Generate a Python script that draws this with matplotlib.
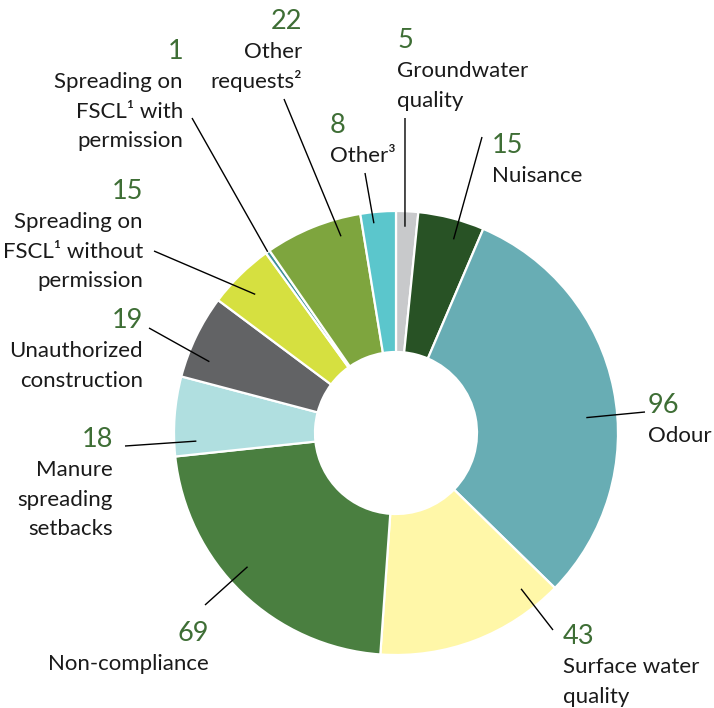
import numpy as np
import matplotlib
matplotlib.use("Agg")
import matplotlib.pyplot as plt

# ---- data (clockwise from 12 o'clock) ----
categories = ["Groundwater\nquality", "Nuisance", "Odour", "Surface water\nquality",
              "Non-compliance", "Manure\nspreading\nsetbacks", "Unauthorized\nconstruction",
              "Spreading on\nFSCL¹ without\npermission", "Spreading on\nFSCL¹ with\npermission",
              "Other\nrequests²", "Other³"]
values = [5, 15, 96, 43, 69, 18, 19, 15, 1, 22, 8]
colors = ["#c8c9cb", "#285225", "#68adb4", "#fff7a8", "#4a7f40", "#b0dfe0",
          "#626365", "#d6e040", "#3f8f98", "#7ea53e", "#5bc6cc"]

# ---- layout (pixel coords, y down) ----
# text x, number baseline, alignment, outer end of leader, position along wedge, radius fraction
layout = [
    (397, 48, "left", (405, 118), 0.43, 0.93),
    (492, 153, "left", (482, 137), 0.62, 0.91),
    (648, 413, "left", (645, 412), 0.56, 0.86),
    (563, 644, "left", (553, 630), 0.14, 0.90),
    (209, 641, "right", (205, 605), 0.55, 0.90),
    (113, 447, "right", (125, 446), 0.18, 0.90),
    (143, 328, "right", (149, 328), 0.28, 0.90),
    (143, 199, "right", (154, 251), 0.45, 0.89),
    (183, 59, "right", (192, 118), 0.50, 1.00),
    (302, 29, "right", (284, 99), 0.75, 0.92),
    (330, 133, "left", (365, 173), 0.35, 0.95),
]

cx, cy, R, r_in = 396, 433, 222, 81
line_gap = 29.3
green = "#3e6e35"
plt.rcParams['font.family'] = ['Lato', 'DejaVu Sans']

fig = plt.figure(figsize=(7.14, 7.08), dpi=100)
ax = fig.add_axes([0, 0, 1, 1])

wedges, _ = ax.pie(values, colors=colors, center=(cx, cy), radius=R,
                   startangle=-90, counterclock=True,
                   wedgeprops=dict(width=R - r_in, edgecolor="white", linewidth=1.6))
ax.set_xlim(0, 714)
ax.set_ylim(708, 0)
ax.set_aspect("equal")
ax.axis("off")

for w, val, name, (tx, by, ha, end, t, rf) in zip(wedges, values, categories, layout):
    ang = np.deg2rad(w.theta1 + t * (w.theta2 - w.theta1))
    px = cx + rf * R * np.cos(ang)
    py = cy + rf * R * np.sin(ang)
    ax.plot([px, end[0]], [py, end[1]], color="black", lw=1.0, solid_capstyle="butt")
    ax.text(tx, by, str(val), ha=ha, va="baseline", fontsize=19.5, color=green)
    for i, line in enumerate(name.split("\n")):
        ax.text(tx, by + line_gap * (i + 1), line, ha=ha, va="baseline",
                fontsize=16.0, color="#1a1a1a")

fig.savefig("out.png", dpi=100)
